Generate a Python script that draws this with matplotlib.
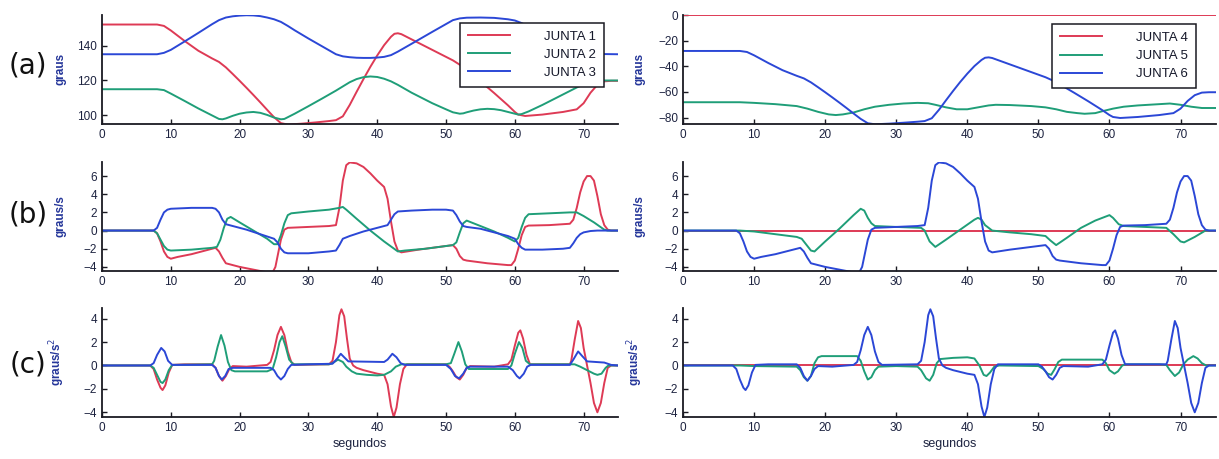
import matplotlib
matplotlib.use("Agg")
import matplotlib.pyplot as plt

plt.rcParams['font.family'] = ['Liberation Sans', 'DejaVu Sans']

RED = '#de3a55'
GREEN = '#1f9e78'
BLUE = '#2b47d6'
INK = '#1d2340'

# ---- posicao (graus), pares (segundos, valor) ----
pos_j1 = [(0, 152), (8, 152), (9, 151.2), (10, 148.6), (11, 145.6), (12, 142.6), (14, 137), (16, 132.6),
          (17, 130.6), (18, 127.5), (19, 123.7), (20, 119.8), (21, 115.8), (22, 111.7), (23, 107.5),
          (24, 103.2), (25, 99), (26, 95.6), (27, 94.8), (29, 95.3), (31, 96), (33, 96.8), (34, 97.3),
          (35, 99.5), (36, 106), (37, 113.5), (38, 120.8), (39, 127.8), (40, 134.3), (41, 140.2), (42, 145),
          (42.5, 146.7), (43, 147), (43.5, 146.5), (45, 143.5), (48, 137.5), (51, 131.5), (52, 129),
          (53, 126), (55, 119.5), (57, 112.8), (59, 105.8), (60, 102), (60.5, 100.5), (61.5, 99.7),
          (64, 100.5), (67, 102), (69, 103.5), (70, 107), (70.5, 110), (71, 113), (72, 117.5), (73, 119.5),
          (74, 119.8), (75, 119.8)]
pos_j2 = [(0, 115), (8, 115), (9, 114.5), (10, 112.5), (12, 108.3), (14, 104), (16, 100), (17, 98),
          (17.5, 97.8), (18, 98.3), (19, 99.8), (20, 101), (21, 101.7), (22, 102), (23, 101.5), (24, 100.3),
          (25, 98.8), (26, 97.8), (26.5, 98), (27, 99), (28, 101), (30, 105.3), (32, 109.7), (34, 114.2),
          (35, 116.6), (36, 119), (37, 120.8), (38, 121.9), (39, 122.3), (40, 122), (41, 121), (42, 119.5),
          (43, 117.5), (45, 113), (48, 107), (50, 103.5), (51, 101.8), (52, 101), (52.5, 101.2), (53, 101.8),
          (54, 102.8), (55, 103.5), (56, 103.8), (57, 103.6), (58, 103), (59, 102), (60, 101), (60.5, 100.5),
          (61, 100.8), (62, 102.3), (64, 106), (66, 110), (68, 114), (69, 116), (70, 117.8), (71, 119),
          (72, 119.7), (73, 120), (75, 120)]
pos_j3 = [(0, 135), (8, 135), (9, 135.8), (10, 137.5), (12, 142.3), (14, 147.2), (16, 152.2), (17, 154.5),
          (18, 156), (19, 156.7), (20, 157.1), (21, 157.3), (22, 157.2), (23, 156.8), (24, 156), (25, 155),
          (26, 153.5), (27, 151.2), (28, 148.7), (30, 144), (32, 139.5), (34, 135), (35, 133.8), (36, 133.3),
          (37, 133), (38, 132.9), (39, 132.9), (40, 133.1), (41, 133.5), (42, 134.5), (43, 136.5), (45, 141),
          (48, 147.8), (51, 154.5), (52, 155.5), (53, 155.9), (55, 156), (57, 155.8), (59, 155), (60, 154.3),
          (61, 152.8), (62, 150.8), (64, 146.8), (66, 142.8), (68, 138.8), (69, 137), (70, 136), (71, 135.5),
          (72, 135.2), (73, 135.1), (75, 135)]
pos_j4 = [(0, 0), (75, 0)]
pos_j5 = [(0, -68), (8, -68), (10, -68.5), (13, -69.5), (16, -71), (17.5, -73), (19, -75.5), (20.5, -77.5),
          (21.5, -78), (22.5, -77.5), (24, -76), (25.5, -73.5), (27, -71.5), (29, -70), (31, -69),
          (33, -68.5), (34.5, -68.8), (35.5, -70), (37, -72), (38.5, -73.5), (40, -73.5), (41.5, -72),
          (43, -70.5), (44, -70), (46, -70.2), (49, -71), (51, -72), (52.5, -73.5), (54, -75.5),
          (55.5, -76.5), (56.5, -77), (58, -76.5), (59, -75), (60.5, -73), (62, -71.5), (64, -70.5),
          (67, -69.5), (68.5, -69), (70, -70), (71.5, -71.5), (73, -72.5), (75, -72.5)]
pos_j6 = [(0, -28), (8, -28), (9, -28.8), (10, -31.4), (11, -34.4), (12, -37.4), (14, -43), (16, -47.4),
          (17, -49.4), (18, -52.5), (19, -56.3), (20, -60.2), (21, -64.2), (22, -68.3), (23, -72.5),
          (24, -76.8), (25, -81), (26, -84.4), (27, -85.2), (29, -84.7), (31, -84), (33, -83.2), (34, -82.7),
          (35, -80.5), (36, -74), (37, -66.5), (38, -59.2), (39, -52.2), (40, -45.7), (41, -39.8), (42, -35),
          (42.5, -33.3), (43, -33), (43.5, -33.5), (45, -36.5), (48, -42.5), (51, -48.5), (52, -51),
          (53, -54), (55, -60.5), (57, -67.2), (59, -74.2), (60, -78), (60.5, -79.5), (61.5, -80.3),
          (64, -79.5), (67, -78), (69, -76.5), (70, -73), (70.5, -70), (71, -67), (72, -62.5), (73, -60.5),
          (74, -60.2), (75, -60.2)]

# ---- velocidade (graus/s) ----
vel_j1 = [(0, 0), (7.5, 0), (8, -0.3), (8.5, -1.2), (9, -2.3), (9.5, -2.9), (10, -3.1), (11, -2.9), (13, -2.6),
          (15, -2.2), (16.5, -1.9), (17, -2.3), (17.5, -3), (18, -3.6), (19, -3.8), (20, -4), (22, -4.3),
          (24, -4.6), (24.8, -4.6), (25.2, -4), (25.6, -2.5), (26, -1), (26.5, 0.1), (27, 0.3), (30, 0.4),
          (33, 0.5), (34, 0.6), (34.5, 2.5), (35, 5.5), (35.5, 7.2), (36, 7.5), (37, 7.4), (38, 7), (39, 6.3),
          (40, 5.5), (41, 4.8), (41.5, 3.5), (42, 1), (42.5, -1.2), (43, -2.2), (43.5, -2.4), (46, -2.1),
          (49, -1.8), (51, -1.6), (51.5, -2), (52, -2.8), (52.5, -3.2), (53, -3.3), (56, -3.6), (59, -3.8),
          (59.5, -3.8), (60, -3.3), (60.5, -2), (61, -0.5), (61.5, 0.4), (62, 0.55), (65, 0.6), (68, 0.75),
          (68.5, 1.2), (69, 2.5), (69.5, 4.2), (70, 5.4), (70.5, 6), (71, 6), (71.5, 5.5), (72, 3.8),
          (72.5, 1.8), (73, 0.6), (73.5, 0.1), (74, 0), (75, 0)]
vel_j2 = [(0, 0), (7.5, 0), (8, -0.3), (8.5, -1), (9, -1.7), (9.5, -2.1), (10, -2.2), (13, -2.1), (16, -1.9),
          (16.7, -1.8), (17.2, -1), (17.7, 0.3), (18.2, 1.3), (18.7, 1.5), (20, 0.9), (22, 0), (24, -0.9),
          (25, -1.5), (25.5, -1.5), (26, -0.5), (26.5, 0.8), (27, 1.7), (27.5, 1.9), (30, 2.1), (33, 2.3),
          (34.5, 2.5), (35, 2.6), (35.5, 2.3), (37, 1.3), (39, 0), (41, -1.2), (43, -2.3), (44, -2.2),
          (47, -2), (51, -1.6), (51.5, -1.3), (52, -0.2), (52.5, 0.8), (53, 1.1), (55, 0.5), (57, -0.1),
          (59, -0.8), (60, -1.2), (60.5, -0.8), (61, 0.4), (61.5, 1.4), (62, 1.8), (65, 1.9), (68, 2),
          (69, 2), (70, 1.6), (71.5, 0.9), (73, 0.1), (73.5, 0), (75, 0)]
vel_j3 = [(0, 0), (7.5, 0), (8, 0.3), (8.5, 1.2), (9, 2), (9.5, 2.3), (10, 2.4), (13, 2.5), (16, 2.5),
          (16.5, 2.4), (17, 2), (17.5, 1.2), (18, 0.7), (19, 0.5), (21, 0.1), (23, -0.4), (25, -0.9),
          (25.5, -1.3), (26, -2), (26.5, -2.4), (27, -2.5), (30, -2.5), (33, -2.3), (34, -2.2), (34.5, -1.6),
          (35, -0.9), (36, -0.6), (38, -0.1), (40, 0.3), (41.5, 0.6), (42, 1.2), (42.5, 1.8), (43, 2.1),
          (45, 2.2), (48, 2.3), (50, 2.3), (51, 2.2), (51.5, 1.7), (52, 1), (52.5, 0.5), (53, 0.4), (55, 0.2),
          (57, -0.2), (59, -0.6), (60, -0.9), (60.5, -1.5), (61, -1.9), (61.5, -2.1), (64, -2.1), (67, -2),
          (68, -1.9), (68.5, -1.4), (69, -0.8), (69.5, -0.4), (70, -0.2), (71, -0.05), (72, 0), (75, 0)]
vel_j4 = [(0, 0), (75, 0)]
vel_j5 = [(0, 0), (8, 0), (10, -0.1), (13, -0.4), (16, -0.7), (16.7, -0.9), (17.3, -1.5), (18, -2.2),
          (18.5, -2.3), (20, -1.2), (22, 0.2), (24, 1.7), (25, 2.4), (25.5, 2.2), (26, 1.4), (26.5, 0.8),
          (27, 0.5), (30, 0.4), (33.5, 0.3), (34, 0), (34.7, -1.2), (35.5, -1.8), (37, -1), (39, 0.1),
          (41, 1.2), (41.5, 1.4), (42, 1.2), (42.5, 0.6), (43.5, 0), (46, -0.2), (49, -0.4), (51, -0.6),
          (51.7, -1.1), (52.5, -1.6), (54, -0.8), (56, 0.3), (58, 1.1), (60, 1.7), (60.5, 1.4), (61.3, 0.7),
          (62, 0.5), (65, 0.4), (68, 0.3), (69, -0.4), (70, -1.2), (70.5, -1.3), (72, -0.7), (73.5, 0), (75, 0)]
vel_j6 = vel_j1  # no grafico a curva da junta 6 coincide com a da junta 1

# ---- aceleracao (graus/s^2) ----
acc_j1 = [(0, 0), (7, 0), (7.5, -0.3), (8, -1.2), (8.5, -1.9), (8.8, -2.1), (9.2, -1.7), (9.7, -0.6),
          (10.2, 0.05), (12, 0.1), (16, 0.1), (16.5, -0.2), (17, -0.9), (17.5, -1.3), (18, -0.9), (18.5, -0.3),
          (19, -0.05), (21, -0.1), (24, 0.05), (24.5, 0.3), (25, 1.3), (25.5, 2.6), (26, 3.3), (26.5, 2.6),
          (27, 1.2), (27.5, 0.3), (28, 0.05), (33, 0.1), (33.5, 0.4), (34, 2), (34.5, 4.3), (34.8, 4.8),
          (35.2, 4.2), (35.6, 2.3), (36, 0.6), (36.5, 0), (37, -0.2), (38, -0.4), (39, -0.55), (40, -0.7),
          (41, -0.8), (41.5, -1.6), (42, -3.5), (42.4, -4.4), (42.8, -3.6), (43.3, -1.6), (43.8, -0.3),
          (44.3, 0.1), (50, 0.1), (50.5, -0.1), (51, -0.5), (51.5, -1), (52, -1.2), (52.5, -0.8), (53, -0.2),
          (53.5, -0.05), (57, -0.1), (58, 0), (59, 0.1), (59.5, 0.5), (60, 1.7), (60.5, 2.8), (60.8, 3),
          (61.2, 2.3), (61.7, 0.9), (62.2, 0.1), (68, 0.1), (68.2, 0.4), (68.7, 2.2), (69.2, 3.8), (69.6, 3.2),
          (70, 1.5), (70.5, 0), (71, -1.5), (71.5, -3.2), (72, -4), (72.5, -3.2), (73, -1.5), (73.5, -0.2),
          (74, 0), (75, 0)]
acc_j2 = [(0, 0), (7, 0), (7.5, -0.2), (8, -0.8), (8.5, -1.4), (8.8, -1.5), (9.2, -1.2), (9.7, -0.4),
          (10.2, 0.05), (16, 0.1), (16.3, 0.4), (16.8, 1.6), (17.3, 2.6), (17.8, 1.7), (18.3, 0.3),
          (18.8, -0.4), (19.3, -0.5), (24, -0.5), (24.8, -0.3), (25.3, 0.7), (25.8, 2), (26.2, 2.5),
          (26.7, 1.6), (27.2, 0.5), (27.8, 0.1), (33, 0.1), (33.5, 0.2), (34.3, 0.5), (35, 0.3), (35.5, -0.1),
          (36.3, -0.5), (37, -0.7), (38.5, -0.8), (40, -0.85), (41, -0.8), (42, -0.5), (42.7, -0.1),
          (43.5, 0.1), (50, 0.1), (50.7, 0.2), (51.2, 1), (51.8, 2), (52.3, 1.2), (52.8, 0.1), (53.3, -0.3),
          (59, -0.3), (59.5, 0), (60, 1), (60.6, 2), (61.1, 1.5), (61.6, 0.4), (62.2, 0.1), (68.7, 0.1),
          (69.5, -0.1), (70.5, -0.4), (71.5, -0.7), (72, -0.8), (72.6, -0.7), (73.2, -0.2), (73.6, 0), (75, 0)]
acc_j3 = [(0, 0), (7, 0), (7.5, 0.2), (8, 0.9), (8.6, 1.5), (9.1, 1.2), (9.6, 0.4), (10.2, 0.05), (16, 0.05),
          (16.5, -0.2), (17, -0.9), (17.4, -1.2), (17.9, -0.9), (18.4, -0.3), (19, -0.2), (24.5, -0.2),
          (25, -0.4), (25.5, -0.9), (26, -1.2), (26.5, -0.9), (27, -0.3), (27.5, 0.05), (30, 0.1),
          (33.5, 0.15), (34.2, 0.6), (34.7, 1), (35.2, 0.7), (35.8, 0.35), (41, 0.3), (41.5, 0.5), (42.2, 1),
          (42.8, 0.7), (43.4, 0.2), (44, 0.05), (50, 0.05), (50.7, -0.3), (51.3, -0.9), (51.9, -1.1),
          (52.5, -0.7), (53, -0.2), (53.5, -0.1), (59, -0.1), (59.7, -0.4), (60.3, -0.9), (60.7, -1.1),
          (61.3, -0.7), (61.8, -0.1), (62.3, 0.05), (68, 0.05), (68.5, 0.5), (69.2, 1.2), (69.8, 0.8),
          (70.5, 0.35), (73, 0.25), (74, 0.05), (75, 0)]
acc_j4 = [(0, 0), (75, 0)]
acc_j5 = [(0, 0), (8, 0), (10, -0.05), (16, -0.1), (16.5, -0.4), (17, -1), (17.5, -1.3), (18, -0.9),
          (18.5, 0.2), (19, 0.7), (19.5, 0.8), (24.5, 0.8), (25, 0.4), (25.5, -0.5), (26, -1.2), (26.5, -1),
          (27, -0.4), (27.5, -0.1), (30, -0.05), (33, -0.1), (33.5, -0.4), (34.2, -1.1), (34.7, -1.3),
          (35.2, -0.8), (35.7, 0.2), (36.2, 0.55), (38, 0.65), (40, 0.7), (41, 0.6), (41.7, 0), (42.3, -0.8),
          (42.7, -0.9), (43.2, -0.6), (43.8, -0.1), (44.5, 0), (50, -0.05), (50.7, -0.3), (51.3, -0.7),
          (51.8, -0.8), (52.3, -0.3), (52.8, 0.3), (53.3, 0.5), (59, 0.5), (59.5, 0.2), (60, -0.4),
          (60.7, -0.7), (61.2, -0.5), (61.8, 0), (62.3, 0.1), (67, 0.1), (68, 0.05), (68.5, -0.4),
          (69.2, -0.9), (69.8, -0.6), (70.4, 0.1), (71, 0.5), (71.8, 0.8), (72.4, 0.6), (73, 0.2), (73.6, 0),
          (75, 0)]
acc_j6 = acc_j1  # idem

x_ticks = [0, 10, 20, 30, 40, 50, 60, 70]
legend_left = ['JUNTA 1', 'JUNTA 2', 'JUNTA 3']
legend_right = ['JUNTA 4', 'JUNTA 5', 'JUNTA 6']


def style(ax, ylim, yticks, ylabel, lab_x):
    ax.set_xlim(0, 75)
    ax.set_ylim(*ylim)
    ax.set_xticks(x_ticks)
    ax.set_yticks(yticks)
    for s in ['top', 'right']:
        ax.spines[s].set_visible(False)
    for s in ['left', 'bottom']:
        ax.spines[s].set_color('#1a1a22')
        ax.spines[s].set_linewidth(1.3)
    ax.tick_params(direction='in', length=3.5, width=1, colors='#1a1a22', labelcolor=INK,
                   labelsize=8.5, pad=3.5)
    ax.set_ylabel(ylabel, fontsize=8.5, fontweight='bold', color='#26379a')
    ax.yaxis.set_label_coords(lab_x, 0.5)


def draw(ax, curves):
    for data, col in zip(curves, [RED, GREEN, BLUE]):
        t, v = zip(*data)
        ax.plot(t, v, color=col, lw=1.4)


def legend(ax, labels, anchor):
    leg = ax.legend(labels, loc='upper left', bbox_to_anchor=anchor, borderaxespad=0,
                    fontsize=9.5, handlelength=3.2, handletextpad=2.6, borderpad=0.6, labelspacing=0.45,
                    fancybox=False, edgecolor='#1a1a22', framealpha=1)
    leg.get_frame().set_linewidth(1.1)
    for txt in leg.get_texts():
        txt.set_color('#15182a')


fig = plt.figure(figsize=(12.19, 4.59), dpi=100)

lx, lw = 0.0837, 0.4233
rx, rw = 0.5603, 0.4373
rows = [0.7298, 0.4096, 0.0915]
h = 0.2385
lab_l, lab_r = -0.068, -0.071

ax = fig.add_axes([lx, rows[0], lw, h])
draw(ax, [pos_j1, pos_j2, pos_j3])
style(ax, (95.1, 157.7), [100, 120, 140], 'graus', lab_l)
legend(ax, legend_left, (0.693, 0.927))

ax = fig.add_axes([rx, rows[0], rw, h])
draw(ax, [pos_j4, pos_j5, pos_j6])
style(ax, (-85, 0.4), [-80, -60, -40, -20, 0], 'graus', lab_r)
legend(ax, legend_right, (0.692, 0.915))

ax = fig.add_axes([lx, rows[1], lw, h])
draw(ax, [vel_j1, vel_j2, vel_j3])
style(ax, (-4.45, 7.6), [-4, -2, 0, 2, 4, 6], 'graus/s', lab_l)

ax = fig.add_axes([rx, rows[1], rw, h])
draw(ax, [vel_j4, vel_j5, vel_j6])
style(ax, (-4.45, 7.6), [-4, -2, 0, 2, 4, 6], 'graus/s', lab_r)

ax = fig.add_axes([lx, rows[2], lw, h])
draw(ax, [acc_j1, acc_j2, acc_j3])
style(ax, (-4.4, 4.95), [-4, -2, 0, 2, 4], 'graus/s$^2$', lab_l)
ax.set_xlabel('segundos', fontsize=9, color=INK, labelpad=3)

ax = fig.add_axes([rx, rows[2], rw, h])
draw(ax, [acc_j4, acc_j5, acc_j6])
style(ax, (-4.4, 4.95), [-4, -2, 0, 2, 4], 'graus/s$^2$', lab_r)
ax.set_xlabel('segundos', fontsize=9, color=INK, labelpad=3)

for lab, y in zip(['(a)', '(b)', '(c)'], [0.858, 0.532, 0.205]):
    fig.text(0.023, y, lab, fontsize=20, family='DejaVu Sans', ha='center', va='center', color='#111111')

fig.savefig('out.png', dpi=100)
